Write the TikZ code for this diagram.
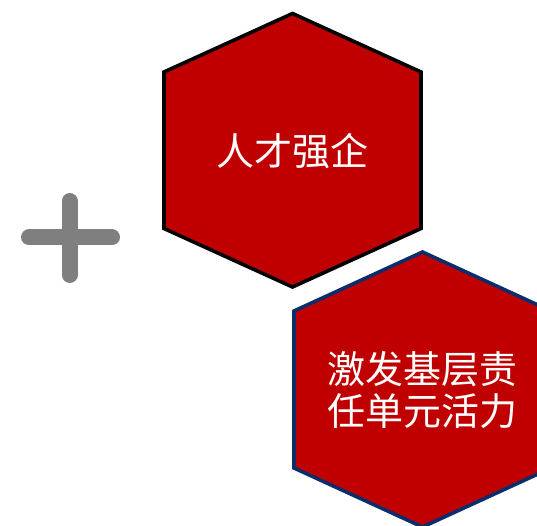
\documentclass[tikz,border=0pt]{standalone}
\usepackage{fontspec}
\newfontfamily\cjk{Noto Sans CJK SC}
\definecolor{hexred}{HTML}{C00000}
\definecolor{hexnavy}{HTML}{0B2D6B}
\definecolor{plusgray}{HTML}{7F7F7F}
\begin{document}
\begin{tikzpicture}[x=1pt,y=-1pt,
  hexlabel/.style={text=white,font=\cjk\fontsize{38}{42}\selectfont,align=center,inner sep=0pt},
  plusarm/.style={draw=plusgray,line width=16pt,line cap=round}]
\useasboundingbox (0,0) rectangle (537,526);
\clip (0,0) rectangle (537,526);
% hexagon 1
\filldraw[fill=hexred,draw=black,line width=3.6pt,line join=miter]
  (292.5,13.5) -- (421,72) -- (421,228.5) -- (292.5,287) -- (164,228.5) -- (164,72) -- cycle;
% hexagon 2
\filldraw[fill=hexred,draw=hexnavy,line width=3.6pt,line join=miter]
  (422.5,252) -- (551,311) -- (551,468) -- (422.5,527) -- (294,468) -- (294,311) -- cycle;
\node[hexlabel] (t1) at (292.5,151) {人才强企};
\node[hexlabel] (t2) at (422,390) {激发基层责\\任单元活力};
% plus sign
\coordinate (pl) at (29,237.5);
\coordinate (pr) at (112,237.5);
\coordinate (pt) at (69.5,201);
\coordinate (pb) at (69.5,275);
\draw[plusarm] (pl) -- (pr);
\draw[plusarm] (pt) -- (pb);
\end{tikzpicture}
\end{document}
